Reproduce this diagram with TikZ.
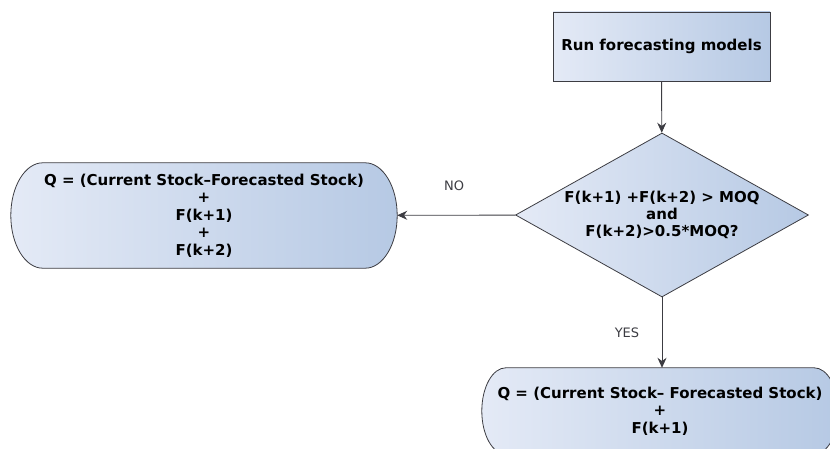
\documentclass[tikz,border=0pt]{standalone}
\usepackage{fontspec}
\setmainfont{DejaVu Sans}
\usetikzlibrary{arrows.meta, shapes.geometric, calc, backgrounds}
\definecolor{flowdark}{RGB}{60,60,66}
\definecolor{flowlight}{RGB}{228,234,246}
\definecolor{flowblue}{RGB}{182,201,228}

% outline of a terminal node: straight top and bottom, half-ellipse ends
\newcommand{\termshape}[2]{%
  \begin{scope}[on background layer]
    \path[termline] let \p1=(#1.north west), \p2=(#1.south east),
      \n1={(\y1-\y2)/2} in
      (\x1+#2pt,\y1) -- (\x2-#2pt,\y1)
      arc[start angle=90, end angle=-90, x radius=#2pt, y radius=\n1]
      -- (\x1+#2pt,\y2)
      arc[start angle=270, end angle=90, x radius=#2pt, y radius=\n1] -- cycle;
  \end{scope}}

\begin{document}
\begin{tikzpicture}[
  x=1pt, y=1pt,
  proc/.style={rectangle, draw=flowdark, line width=0.8pt, left color=flowlight,
               right color=flowblue, font=\fontsize{15}{17}\selectfont\bfseries,
               align=center, inner sep=0pt},
  dec/.style={diamond, draw=flowdark, line width=0.8pt, left color=flowlight,
              right color=flowblue, font=\fontsize{15}{17}\selectfont\bfseries,
              align=center, inner sep=0pt, aspect=1.79},
  term/.style={rectangle, font=\fontsize{15}{17.5}\selectfont\bfseries,
               align=center, inner sep=0pt},
  termline/.style={draw=flowdark, line width=0.8pt, left color=flowlight,
                   right color=flowblue},
  flow/.style={flowdark, line width=0.9pt, -{Stealth[length=10pt, width=9pt]}},
  ans/.style={font=\fontsize{13}{15}\selectfont, text=flowdark},
]
  \clip (0,0) rectangle (830,448);

  % -- steps --
  \node[proc, minimum width=217, minimum height=69] (run) at (661.5,401.5)
    {Run forecasting models};
  \node[dec, minimum width=293, minimum height=164] (check) at (662,233)
    {F(k+1) +F(k+2) > MOQ\\and\\F(k+2)>0.5*MOQ?};
  \node[term, minimum width=386, minimum height=105] (qtwo) at (204,232.5)
    {Q = (Current Stock--Forecasted Stock)\\+\\F(k+1)\\+\\F(k+2)};
  \node[term, minimum width=356, minimum height=86] (qone) at (660,37)
    {Q = (Current Stock-- Forecasted Stock)\\+\\F(k+1)};
  \termshape{qtwo}{32}
  \termshape{qone}{24}

  % -- connectors --
  \draw[flow] (run) -- (check);
  \draw[flow] (check) -- (qtwo);
  \draw[flow] (check.south) -- (check.south |- qone.north);

  % -- answers --
  \node[ans] (no) at (454,262) {NO};
  \node[ans] (yes) at (627,115) {YES};
\end{tikzpicture}
\end{document}
